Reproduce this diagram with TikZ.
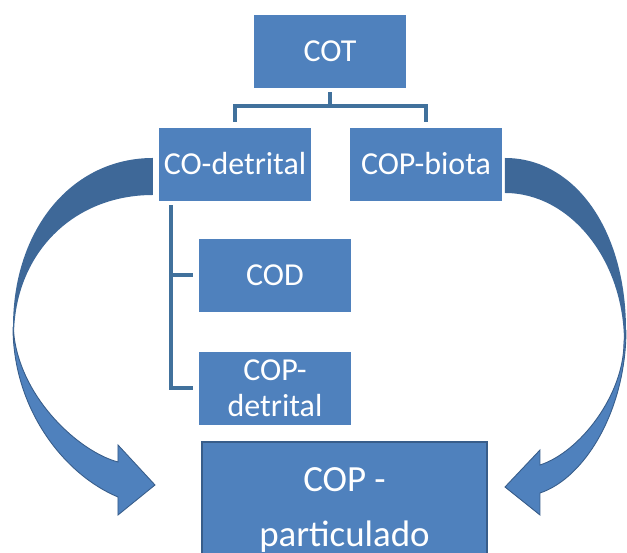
\documentclass[tikz,border=0pt]{standalone}
\usepackage{fontspec}
\setmainfont{Carlito}
\definecolor{boxblue}{HTML}{4F81BD}
\definecolor{linkblue}{HTML}{41719C}
\definecolor{backblue}{HTML}{3E6898}
\definecolor{edgeblue}{HTML}{385D8A}

\begin{document}
\begin{tikzpicture}[x=0.02cm,y=-0.02cm,
    box/.style={fill=boxblue,draw=white,line width=0.4pt,text=white,
        minimum width=3.06cm,minimum height=1.48cm,inner sep=1pt,align=center,
        font=\fontsize{18.2}{20.5}\selectfont},
    bigbox/.style={box,draw=edgeblue,line width=1.6pt,minimum width=5.7cm,
        minimum height=2.72cm,font=\fontsize{21}{31.3}\selectfont},
    link/.style={draw=linkblue,line width=2.1pt,shorten <=2.3pt,shorten >=2.8pt},
    front/.style={fill=boxblue,draw=edgeblue,line width=0.5pt},
    back/.style={fill=backblue}]
    \useasboundingbox (0,0) rectangle (627,553);
    \clip (0,0) rectangle (627,553);

    \node[box] (cot) at (330,51) {COT};
    \node[box] (codet) at (235,164) {CO-detrital};
    \node[box] (copbio) at (426,164) {COP-biota};
    \node[box] (cod) at (275,275) {COD};
    \node[box] (copdet) at (275,388) {COP-\\detrital};
    \node[bigbox] (coppart) at (344.5,510) {COP -\\particulado};

    \draw[link] (cot.south) -- ++(0,18) -| (codet.north);
    \draw[link] (cot.south) -- ++(0,18) -| (copbio.north);
    \draw[link] ([xshift=0.26cm]codet.south west) |- (cod.west);
    \draw[link] ([xshift=0.26cm]codet.south west) |- (copdet.west);

    % left curved arrow, CO-detrital to COP-particulado
    \path[front] (13,327) .. controls (13,410) and (65,475) .. (118,497)
        -- (118,515) -- (155,485) -- (118,445) -- (118,462)
        .. controls (80,452) and (22,400) .. (14,336) -- cycle;
    \path[back] (153,158) .. controls (72,158) and (13,229) .. (13,327)
        -- (14,336) .. controls (14,255) and (72,195) .. (153,195) -- cycle;

    % right curved arrow, COP-biota to COP-particulado
    \path[front] (626,330) .. controls (626,410) and (585,478) .. (540,493)
        -- (540,515) -- (505,487) -- (540,450) -- (540,465)
        .. controls (580,452) and (624,395) .. (624,342) -- cycle;
    \path[back] (505,158) .. controls (575,158) and (626,230) .. (626,330)
        -- (624,342) .. controls (624,260) and (570,193) .. (505,193) -- cycle;
\end{tikzpicture}
\end{document}
